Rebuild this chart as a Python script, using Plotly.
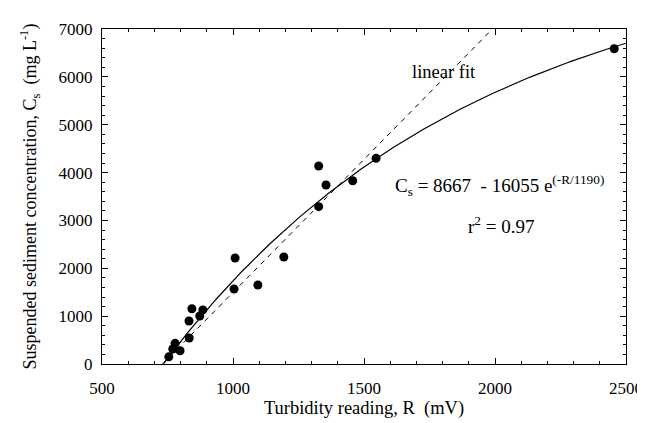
import numpy as np
import plotly.graph_objects as go

# Observed data (turbidity reading R in mV, suspended sediment Cs in mg/L)
turbidity_mv = [755, 770, 779, 798, 832, 833, 843, 873, 885,
                1004, 1008, 1095, 1194, 1327, 1327, 1355, 1457, 1546, 2455]
sediment_mgL = [150, 313, 432, 278, 898, 543, 1155, 1003, 1130,
                1567, 2215, 1650, 2236, 4137, 3287, 3740, 3830, 4298, 6588]

# Exponential fit parameters shown on the chart: Cs = A - B*exp(-R/C)
fit_A, fit_B, fit_C = 8667, 16055, 1190
fit_R_range = [735, 2500]

# Linear fit end points
linear_R = [731, 1990]
linear_Cs = [0, 7000]

x_ticks = [500, 1000, 1500, 2000, 2500]
y_ticks = [0, 1000, 2000, 3000, 4000, 5000, 6000, 7000]

R_fit = np.linspace(fit_R_range[0], fit_R_range[1], 200)
Cs_fit = fit_A - fit_B * np.exp(-R_fit / fit_C)

font_family = "Liberation Serif"

fig = go.Figure()
fig.add_trace(go.Scatter(x=linear_R, y=linear_Cs, mode="lines",
                         line=dict(color="black", width=1, dash="5px,5px"),
                         showlegend=False, hoverinfo="skip"))
fig.add_trace(go.Scatter(x=R_fit, y=Cs_fit, mode="lines",
                         line=dict(color="black", width=1.2),
                         showlegend=False))
fig.add_trace(go.Scatter(x=turbidity_mv, y=sediment_mgL, mode="markers",
                         marker=dict(color="black", size=9),
                         showlegend=False))

axis_common = dict(showgrid=False, zeroline=False, showline=True,
                   linecolor="black", linewidth=1, mirror="allticks",
                   ticks="inside", ticklen=6, tickcolor="black",
                   automargin=False,
                   tickfont=dict(family=font_family, size=17, color="black"))

fig.update_xaxes(range=[500, 2500], tickvals=x_ticks,
                 ticklabelstandoff=9,
                 minor=dict(dtick=100, ticks="inside", ticklen=3, tickcolor="black"),
                 title=dict(text="Turbidity reading, R  (mV)",
                            font=dict(family=font_family, size=18.5, color="black"),
                            standoff=0),
                 **axis_common)
fig.update_yaxes(range=[0, 7000], tickvals=y_ticks,
                 ticklabelstandoff=5,
                 minor=dict(dtick=200, ticks="inside", ticklen=3, tickcolor="black"),
                 title=dict(text="Suspended sediment concentration, C<sub>s</sub>  (mg L<sup>-1</sup>)",
                            font=dict(family=font_family, size=18, color="black"),
                            standoff=17),
                 **axis_common)

ann_font = dict(family=font_family, size=19, color="black")
fig.add_annotation(x=1676, y=6110, text="linear fit", showarrow=False,
                   xanchor="left", font=dict(family=font_family, size=18.5, color="black"))
fig.add_annotation(x=1611, y=3720,
                   text="C<sub>s</sub> = 8667  - 16055 e<sup>(-R/1190)</sup>",
                   showarrow=False, xanchor="left", font=ann_font)
fig.add_annotation(x=1889, y=2900, text="r<sup>2</sup> = 0.97",
                   showarrow=False, xanchor="left", font=ann_font)

# The page body adds an 8px margin, so the figure is sized to fit the window
fig.update_layout(width=637, height=415,
                  font=dict(family=font_family, color="black"),
                  margin=dict(l=94, r=19, t=21, b=59),
                  paper_bgcolor="white", plot_bgcolor="white")

fig.write_html("out.html")
